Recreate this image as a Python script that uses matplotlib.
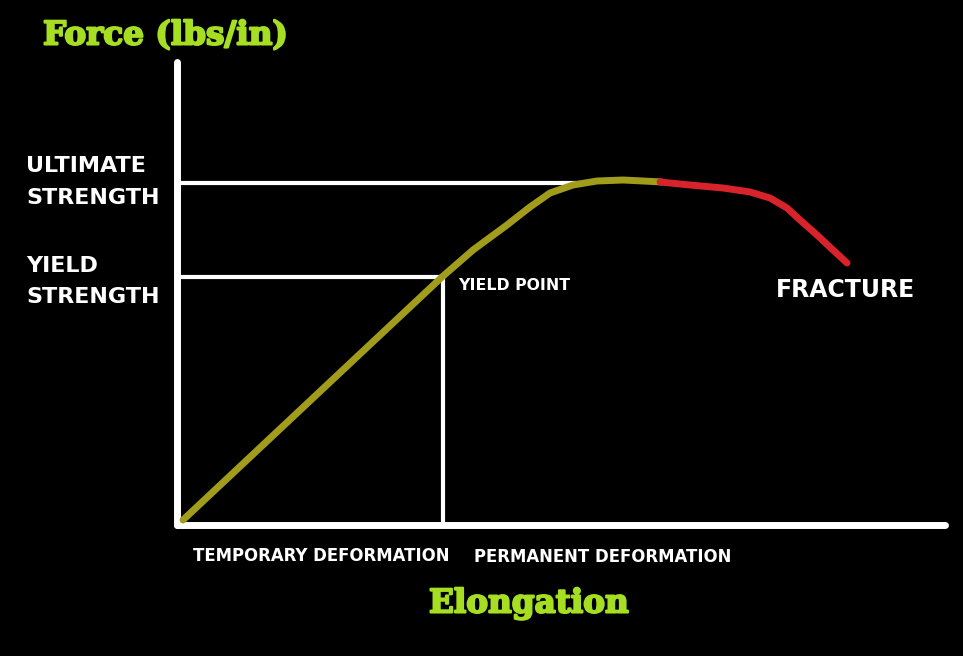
import matplotlib

matplotlib.use("Agg")
import matplotlib.pyplot as plt
import matplotlib.patheffects as pe

# data units: elongation / force, origin at the corner of the axes
elastic_x = [3, 262, 293, 327, 350, 370, 393, 417, 443, 463, 482]
elastic_y = [2, 245, 272, 297, 315, 329, 337, 341, 342, 341, 340]
necking_x = [480, 510, 543, 570, 590, 607, 620, 637, 653, 667]
necking_y = [340, 337, 334, 330, 324, 314, 302, 287, 272, 259]

yield_strength = 245
yield_elong = 263
ultimate_strength = 339
ultimate_elong = 397

GREEN = "#a6df22"
OLIVE = "#a29c1c"
RED = "#d8232a"

fig = plt.figure(figsize=(9.63, 6.56), dpi=100, facecolor="black")
ax = fig.add_axes([0, 0, 1, 1])
ax.set_facecolor("black")
ax.set_xlim(-180, 783)
ax.set_ylim(-134, 522)
ax.axis("off")

# axes lines
ax.plot([-3, -3], [-3, 460], color="white", lw=5, solid_capstyle="round")
ax.plot([-3, 765], [-3, -3], color="white", lw=5, solid_capstyle="round")

# guide lines
ax.plot([2, ultimate_elong], [ultimate_strength] * 2, color="white", lw=3)
ax.plot([2, yield_elong], [yield_strength] * 2, color="white", lw=3)
ax.plot([yield_elong] * 2, [yield_strength, 0], color="white", lw=3)

ax.plot(elastic_x, elastic_y, color=OLIVE, lw=5, solid_capstyle="round", solid_joinstyle="round")
ax.plot(necking_x, necking_y, color=RED, lw=5, solid_capstyle="round", solid_joinstyle="round")

lab = dict(color="white", fontweight="bold", family="DejaVu Sans", va="center", ha="left")
ax.text(-154, 356, "ULTIMATE", fontsize=16, **lab)
ax.text(-154, 324, "STRENGTH", fontsize=16, **lab)
ax.text(-154, 256, "YIELD", fontsize=16, **lab)
ax.text(-154, 225, "STRENGTH", fontsize=16, **lab)
ax.text(278, 237, "YIELD POINT", fontsize=11.3, **lab)
ax.text(596, 232, "FRACTURE", fontsize=17, **lab)
ax.text(13, -34, "TEMPORARY DEFORMATION", fontsize=11.9, **lab)
ax.text(294, -35, "PERMANENT DEFORMATION", fontsize=11.9, **lab)

heavy = [pe.withStroke(linewidth=1.5, foreground=GREEN)]
ax.text(-137, 487, "Force (lbs/in)", color=GREEN, fontsize=23.5, fontweight="bold",
        family="DejaVu Serif", va="center", ha="left", path_effects=heavy)
ax.text(249, -81, "Elongation", color=GREEN, fontsize=23.5, fontweight="bold",
        family="DejaVu Serif", va="center", ha="left", path_effects=heavy)

fig.savefig("out.png", dpi=100, facecolor="black")
